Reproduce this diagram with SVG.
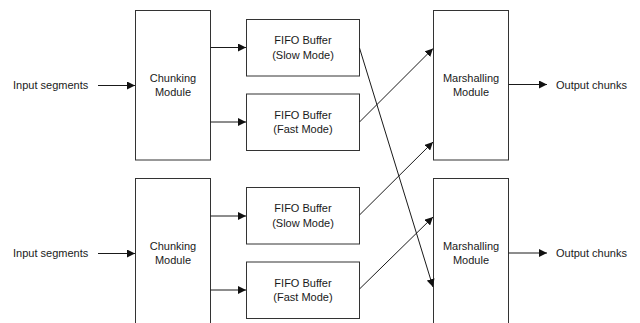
<svg xmlns="http://www.w3.org/2000/svg" width="640" height="323" viewBox="0 0 640 323">
  <defs>
    <marker id="arrow" viewBox="0 0 10 10" refX="10" refY="5" markerWidth="8" markerHeight="8" markerUnits="userSpaceOnUse" orient="auto">
      <path d="M0,0 L10,5 L0,10 z" fill="#111"/>
    </marker>
  </defs>
  <style>
    .box { fill: #fff; stroke: #333; stroke-width: 1; }
    .lbl { font-family: "Liberation Sans", Arial, sans-serif; font-size: 11px; fill: #1a1a1a; }
    .mid { text-anchor: middle; }
    .edge { fill: none; stroke: #1a1a1a; stroke-width: 1; marker-end: url(#arrow); }
  </style>
  <rect width="640" height="323" fill="#fff"/>

  <!-- upper pipeline -->
  <g id="input1"><text class="lbl" x="13" y="89">Input segments</text></g>
  <g id="chunk1">
    <rect class="box" x="135.5" y="10.5" width="75" height="149.5"/>
    <text class="lbl mid" x="173" y="82">Chunking</text>
    <text class="lbl mid" x="173" y="95.5">Module</text>
  </g>
  <g id="fifo1slow">
    <rect class="box" x="246.5" y="19.5" width="113" height="56.5"/>
    <text class="lbl mid" x="303" y="44">FIFO Buffer</text>
    <text class="lbl mid" x="303" y="58.5">(Slow Mode)</text>
  </g>
  <g id="fifo1fast">
    <rect class="box" x="246.5" y="94" width="113" height="56.5"/>
    <text class="lbl mid" x="303" y="118.5">FIFO Buffer</text>
    <text class="lbl mid" x="303" y="133">(Fast Mode)</text>
  </g>
  <g id="marshal1">
    <rect class="box" x="433.5" y="10.5" width="75" height="149.5"/>
    <text class="lbl mid" x="471" y="82">Marshalling</text>
    <text class="lbl mid" x="471" y="95.5">Module</text>
  </g>
  <g id="output1"><text class="lbl" x="556" y="89">Output chunks</text></g>

  <!-- lower pipeline -->
  <g id="input2"><text class="lbl" x="13" y="257">Input segments</text></g>
  <g id="chunk2">
    <rect class="box" x="135.5" y="178.5" width="75" height="150"/>
    <text class="lbl mid" x="173" y="250">Chunking</text>
    <text class="lbl mid" x="173" y="263.5">Module</text>
  </g>
  <g id="fifo2slow">
    <rect class="box" x="246.5" y="187.5" width="113" height="56.5"/>
    <text class="lbl mid" x="303" y="212">FIFO Buffer</text>
    <text class="lbl mid" x="303" y="226.5">(Slow Mode)</text>
  </g>
  <g id="fifo2fast">
    <rect class="box" x="246.5" y="262" width="113" height="56.5"/>
    <text class="lbl mid" x="303" y="286.5">FIFO Buffer</text>
    <text class="lbl mid" x="303" y="301">(Fast Mode)</text>
  </g>
  <g id="marshal2">
    <rect class="box" x="433.5" y="178.5" width="75" height="150"/>
    <text class="lbl mid" x="471" y="250">Marshalling</text>
    <text class="lbl mid" x="471" y="263.5">Module</text>
  </g>
  <g id="output2"><text class="lbl" x="556" y="257">Output chunks</text></g>

  <!-- connectors -->
  <g id="connectors">
    <line class="edge" x1="98" y1="85.5" x2="135" y2="85.5"/>
    <line class="edge" x1="210.5" y1="47.5" x2="246" y2="47.5"/>
    <line class="edge" x1="210.5" y1="122" x2="246" y2="122"/>
    <line class="edge" x1="359.5" y1="48" x2="433" y2="287"/>
    <line class="edge" x1="359.5" y1="122" x2="433" y2="48.5"/>
    <line class="edge" x1="508.5" y1="84.5" x2="547" y2="84.5"/>

    <line class="edge" x1="98" y1="253.5" x2="135" y2="253.5"/>
    <line class="edge" x1="210.5" y1="216" x2="246" y2="216"/>
    <line class="edge" x1="210.5" y1="290" x2="246" y2="290"/>
    <line class="edge" x1="359.5" y1="215" x2="433" y2="142"/>
    <line class="edge" x1="359.5" y1="289" x2="433" y2="217"/>
    <line class="edge" x1="508.5" y1="253" x2="547" y2="253"/>
  </g>
</svg>
